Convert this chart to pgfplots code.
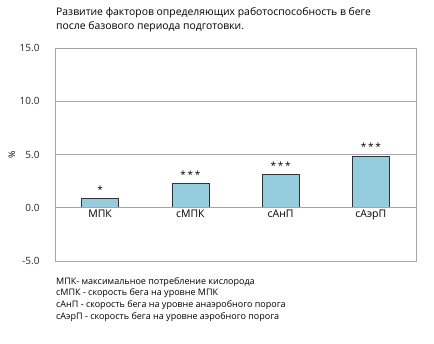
\documentclass[border=0pt]{standalone}
\usepackage{pgfplots}
\pgfplotsset{compat=1.18}
\usepackage{fontspec}
\setmainfont{Open Sans}
\definecolor{barfill}{RGB}{150,205,222}
\definecolor{gridc}{RGB}{165,165,165}
\begin{document}
\begin{tikzpicture}
\useasboundingbox (0,0) rectangle (434pt,-344pt);
\node[anchor=north west, align=left, font=\fontsize{10.4}{14.5}\selectfont, inner sep=0pt] at (56pt,-7pt)
  {Развитие факторов определяющих работоспособность в беге\\после базового периода подготовки.};
\begin{axis}[
  at={(55pt,-261pt)}, anchor=south west,
  scale only axis, width=361pt, height=213pt,
  xmin=-0.5, xmax=3.5, ymin=-5, ymax=15,
  ytick={-5,0,5,10,15},
  /pgf/number format/fixed, /pgf/number format/fixed zerofill, /pgf/number format/precision=1,
  /pgf/number format/assume math mode=true,
  yticklabel style={font=\fontsize{10}{10}\selectfont, xshift=-12pt, text=black!85},
  xtick=\empty,
  major tick length=0pt,
  ymajorgrids, grid style={gridc, line width=0.9pt},
  axis line style={gridc, line width=0.9pt},
  ylabel={\%},
  ylabel style={font=\fontsize{9}{10}\selectfont, at={(rel axis cs:0,0.5)}, yshift=43pt, anchor=center},
  clip=false,
]
\addplot[ybar, bar width=37pt, fill=barfill, draw=black!80, line width=0.7pt,
  nodes near coords, point meta=explicit symbolic,
  nodes near coords style={font=\fontsize{10}{10}\selectfont, anchor=south, yshift=2pt}]
  table[meta=s] {
x y s
0 0.85 *
1 2.25 *\,*\,*
2 3.1 *\,*\,*
3 4.8 *\,*\,*
};
\draw[gridc, line width=0.9pt] (axis cs:-0.5,0) -- (axis cs:3.5,0);
\node[anchor=north, font=\fontsize{10.5}{11}\selectfont, inner sep=2pt] at (axis cs:0,0) {МПК};
\node[anchor=north, font=\fontsize{10.5}{11}\selectfont, inner sep=2pt] at (axis cs:1,0) {сМПК};
\node[anchor=north, font=\fontsize{10.5}{11}\selectfont, inner sep=2pt] at (axis cs:2,0) {сАнП};
\node[anchor=north, font=\fontsize{10.5}{11}\selectfont, inner sep=2pt] at (axis cs:3,0) {сАэрП};
\end{axis}
\node[anchor=north west, align=left, font=\fontsize{9}{11.7}\selectfont, inner sep=0pt] at (56pt,-277pt)
  {МПК- максимальное потребление кислорода\\
   сМПК - скорость бега на уровне МПК\\
   сАнП - скорость бега на уровне анаэробного порога\\
   сАэрП - скорость бега на уровне аэробного порога};
\end{tikzpicture}
\end{document}
